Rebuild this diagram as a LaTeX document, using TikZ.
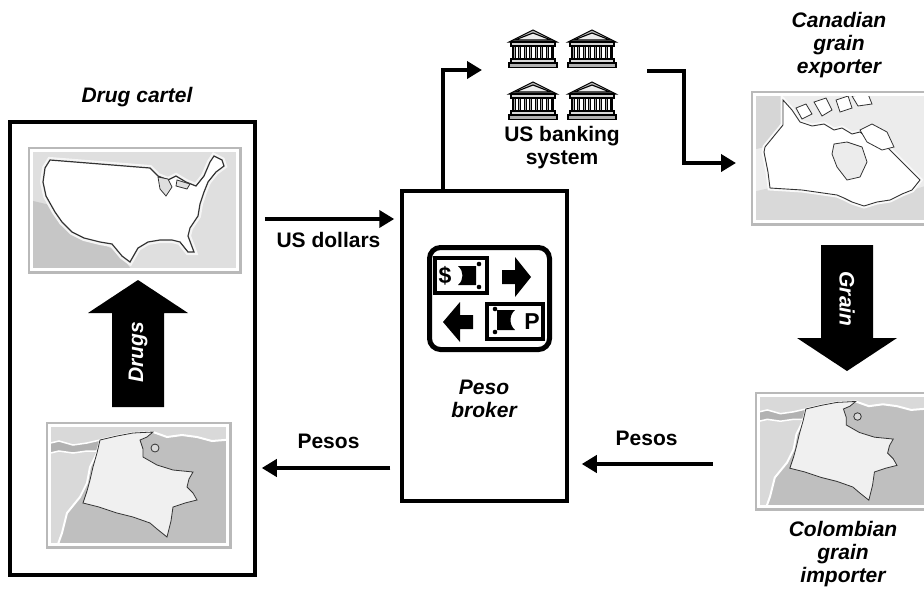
\documentclass[tikz,border=0pt]{standalone}
\usepackage{fontspec}
\setmainfont{Liberation Sans}
\usetikzlibrary{arrows.meta}

\tikzstyle{block} = [rectangle, draw, line width=3.5pt, inner sep=0pt]
\tikzstyle{map} = [rectangle, draw=gray!55, line width=3pt, inner sep=0pt]
\tikzstyle{line} = [draw, line width=4pt, -{Triangle[length=15pt,width=17pt]}]
\tikzstyle{tag} = [font=\bfseries\fontsize{21}{23}\selectfont, align=center, inner sep=0pt]
\tikzstyle{actor} = [tag, font=\bfseries\itshape\fontsize{21}{23}\selectfont]
\tikzstyle{border} = [draw=gray!40!black, line width=0.8pt]
\tikzstyle{coast} = [draw=white, line width=2pt]
\tikzstyle{stone} = [draw=black, line width=1.1pt]

% small bank building, origin at its top left corner
\tikzset{bank/.pic={
  \filldraw[fill=gray!55, stone] (1,12) -- (25,0) -- (49,12) -- cycle;
  \filldraw[fill=gray!15, stone] (7,10) -- (25,3) -- (43,10) -- cycle;
  \filldraw[fill=gray!35, stone] (3,12) rectangle (47,16);
  \filldraw[fill=gray!70, stone] (5,16) rectangle (45,29);
  \foreach \c in {7,12.5,...,40}
    \filldraw[fill=white, draw=black, line width=0.6pt] (\c,16) rectangle (\c+3.5,29);
  \filldraw[fill=gray!30, stone] (3,29) rectangle (47,33);
  \filldraw[fill=gray!60, stone] (1,33) rectangle (49,37.5);
}}

% map of Colombia in a 183 x 124 frame
\newcommand{\colombia}{%
  \begin{scope}
    \clip (2.5,2.5) rectangle (180.5,121.5);
    \filldraw[fill=gray!50, coast] (53,17) -- (70,13) -- (86,10) -- (106,9) -- (120,14) -- (135,12)
      -- (150,14) -- (165,18) -- (190,16) -- (190,130) -- (8,130) -- (10,124) -- (15,110) -- (20,90)
      -- (33,74) -- (40,60) -- (43,44) -- (50,30) -- cycle;
    \filldraw[fill=gray!60, coast, line width=1.5pt] (-5,22) -- (12,18) -- (26,22) -- (40,20) -- (53,17)
      -- (50,28) -- (40,28) -- (26,30) -- (12,28) -- (-5,32) -- cycle;
    \filldraw[fill=gray!12, border] (53,17) -- (70,13) -- (86,10) -- (106,9) -- (100,14) -- (93,17)
      -- (96,26) -- (96,34) -- (110,42) -- (126,47) -- (146,49) -- (142,56) -- (140,64) -- (146,70)
      -- (150,77) -- (138,80) -- (126,84) -- (124,98) -- (120,114) -- (110,106) -- (103,100)
      -- (86,94) -- (70,90) -- (52,84) -- (36,80) -- (40,68) -- (43,57) -- (46,44) -- (50,30) -- cycle;
    \filldraw[fill=gray!30, border] (108,25) circle (4);
  \end{scope}}

\begin{document}
\begin{tikzpicture}[x=1pt, y=-1pt]
\useasboundingbox (0,0) rectangle (924,590);
\clip (0,0) rectangle (924,590);

% drug cartel
\node[actor] (cartellabel) at (137,97) {Drug cartel};
\node[block, minimum width=245, minimum height=453] (cartel) at (132.5,348.5) {};

\node[map, fill=gray!25, minimum width=211, minimum height=124] (usmap) at (134.5,210) {};
\begin{scope}
  \clip ([shift={(4pt,4pt)}]usmap.south west) rectangle ([shift={(-4pt,-4pt)}]usmap.north east);
  \fill[gray!45] (29,200) -- (50,205) -- (60,225) -- (82,238) -- (106,246) -- (120,252) -- (128,265)
    -- (135,275) -- (29,275) -- cycle;
  \filldraw[fill=white, draw=gray!40!black, line width=1.2pt, preaction={draw=gray!8, line width=6pt}]
    (50,160) -- (150,168) -- (158,176) -- (168,180) -- (176,176) -- (186,182) -- (196,186)
    -- (204,176) -- (210,162) -- (214,156) -- (222,160) -- (224,166) -- (216,172) -- (208,182)
    -- (204,192) -- (200,204) -- (198,216) -- (190,228) -- (188,236) -- (194,252) -- (188,252)
    -- (180,242) -- (172,240) -- (160,240) -- (148,242) -- (138,248) -- (130,262) -- (122,256)
    -- (112,244) -- (100,242) -- (84,238) -- (72,232) -- (62,222) -- (55,212) -- (46,196)
    -- (43,182) -- (45,168) -- cycle;
  \filldraw[fill=gray!25, border] (158,177) -- (168,179) -- (172,187) -- (166,196) -- (160,189) -- cycle;
  \filldraw[fill=gray!25, border] (177,180) -- (190,184) -- (187,189) -- (176,186) -- cycle;
\end{scope}
\draw[white, line width=2.5pt] ([shift={(4pt,4pt)}]usmap.south west) rectangle ([shift={(-4pt,-4pt)}]usmap.north east);

\fill (138,280) -- (188,313) -- (164,313) -- (164,407) -- (112,407) -- (112,313) -- (88,313) -- cycle;
\node[actor, text=white, rotate=90] (drugs) at (138,352) {Drugs};

\node[map, fill=gray!30, minimum width=183, minimum height=124] (colmapL) at (138.5,485) {};
\begin{scope}[shift={(47,423)}]
  \colombia
\end{scope}
\draw[white, line width=2.5pt] ([shift={(4pt,4pt)}]colmapL.south west) rectangle ([shift={(-4pt,-4pt)}]colmapL.north east);

% peso broker
\node[block, minimum width=165, minimum height=310] (broker) at (484.5,346) {};
\draw[line width=5pt, rounded corners=11pt] (429.5,247.5) rectangle (549.5,349.5);
\draw[line width=4pt] (435,258) rectangle (487,293);
\node[font=\bfseries\fontsize{23}{23}\selectfont, inner sep=0pt] (dollar) at (445,276) {\$};
\fill (458,266) .. controls (464,271) and (464,280) .. (458,285) -- (476,285) -- (476,266) -- cycle;
\fill (479,264) circle (2.3) (479,287) circle (2.3);
\fill (502,270) -- (515,270) -- (515,257) -- (531,277) -- (515,297) -- (515,284) -- (502,284) -- cycle;
\fill (473,315) -- (460,315) -- (460,302) -- (443,322) -- (460,342) -- (460,329) -- (473,329) -- cycle;
\draw[line width=4pt] (487,304) rectangle (543,339);
\fill (497,310) -- (515,310) .. controls (509,315) and (509,325) .. (515,330) -- (497,330) -- cycle;
\fill (495,309) circle (2.3) (495,332) circle (2.3);
\node[font=\bfseries\fontsize{23}{23}\selectfont, inner sep=0pt] (peso) at (532,322) {P};
\node[actor] (brokerlabel) at (484,399) {Peso\\broker};

% US banking system
\foreach \x/\y in {508/30, 567/30, 508/82, 567/82}
  \pic at (\x,\y) {bank};
\node[tag] (bankslabel) at (562,148) {US banking\\system};
\coordinate (bankin) at (482,70);
\coordinate (bankout) at (647,71);

% Canadian grain exporter
\node[actor] (exporterlabel) at (839,45) {Canadian\\grain\\exporter};
\node[map, fill=gray!15, minimum width=178, minimum height=132] (canada) at (841,158) {};
\begin{scope}[shift={(752,92)}]
  \clip (2.5,2.5) rectangle (178,129.5);
  \fill[gray!32] (0,0) -- (31,0) -- (31,33) -- (13,55) -- (0,58) -- cycle;
  \fill[gray!30] (0,100) -- (18,96) -- (50,98) -- (85,103) -- (92,106) -- (100,110) -- (112,114)
    -- (125,110) -- (138,108) -- (150,102) -- (160,98) -- (180,92) -- (180,132) -- (0,132) -- cycle;
  \filldraw[fill=white, draw=gray!40!black, line width=0.9pt, preaction={draw=gray!5, line width=5pt}]
    (31,8) -- (40,18) -- (48,30) -- (60,34) -- (72,32) -- (82,38) -- (90,36) -- (100,42) -- (108,40)
    -- (118,48) -- (130,50) -- (140,60) -- (150,70) -- (160,80) -- (168,88) -- (160,98) -- (150,102)
    -- (138,108) -- (125,110) -- (112,114) -- (100,110) -- (92,106) -- (85,103) -- (50,98)
    -- (18,96) -- (16,80) -- (12,60) -- (13,55) -- (31,33) -- cycle;
  \filldraw[fill=gray!15, border] (82,52) -- (95,50) -- (110,55) -- (115,70) -- (108,85) -- (95,88)
    -- (85,75) -- (80,62) -- cycle;
  \filldraw[fill=white, border] (44,16) -- (54,12) -- (60,22) -- (50,27) -- cycle;
  \filldraw[fill=white, border] (62,10) -- (74,6) -- (80,18) -- (70,24) -- cycle;
  \filldraw[fill=white, border] (84,8) -- (96,4) -- (100,16) -- (88,20) -- cycle;
  \filldraw[fill=white, border] (100,4) -- (116,2) -- (120,12) -- (106,14) -- cycle;
  \filldraw[fill=white, border] (108,38) -- (120,32) -- (135,40) -- (142,55) -- (130,58) -- (115,50) -- cycle;
\end{scope}
\draw[white, line width=2.5pt] ([shift={(4pt,4pt)}]canada.south west) rectangle ([shift={(-4pt,-4pt)}]canada.north east);
\coordinate (canadain) at (736,163);

\fill (847,371) -- (897,338) -- (873,338) -- (873,245) -- (821,245) -- (821,338) -- (797,338) -- cycle;
\node[actor, text=white, rotate=-90] (grain) at (847,299) {Grain};

% Colombian grain importer
\node[map, fill=gray!30, minimum width=172, minimum height=116] (colmapR) at (842,451) {};
\begin{scope}[shift={(756,393)}, scale=0.94]
  \colombia
\end{scope}
\draw[white, line width=2.5pt] ([shift={(4pt,4pt)}]colmapR.south west) rectangle ([shift={(-4pt,-4pt)}]colmapR.north east);
\node[actor] (importerlabel) at (843,554) {Colombian\\grain\\importer};

% flows
\draw[line, shorten <=8pt, shorten >=6pt] (cartel.east |- 0,219) -- node[tag, yshift=-21pt] {US dollars} (broker.west |- 0,219);
\draw[line, shorten <=10pt, shorten >=5pt] (broker.west |- 0,468) -- node[tag, yshift=27pt] {Pesos} (cartel.east |- 0,468);
\draw[line, shorten <=42pt, shorten >=13pt] (colmapR.west |- 0,464) -- node[tag, xshift=-15pt, yshift=26pt] {Pesos} (broker.east |- 0,464);
\draw[line] ([xshift=43pt]broker.north west) |- (bankin);
\draw[line] (bankout) -- ++(37,0) |- (canadain);
\end{tikzpicture}
\end{document}
